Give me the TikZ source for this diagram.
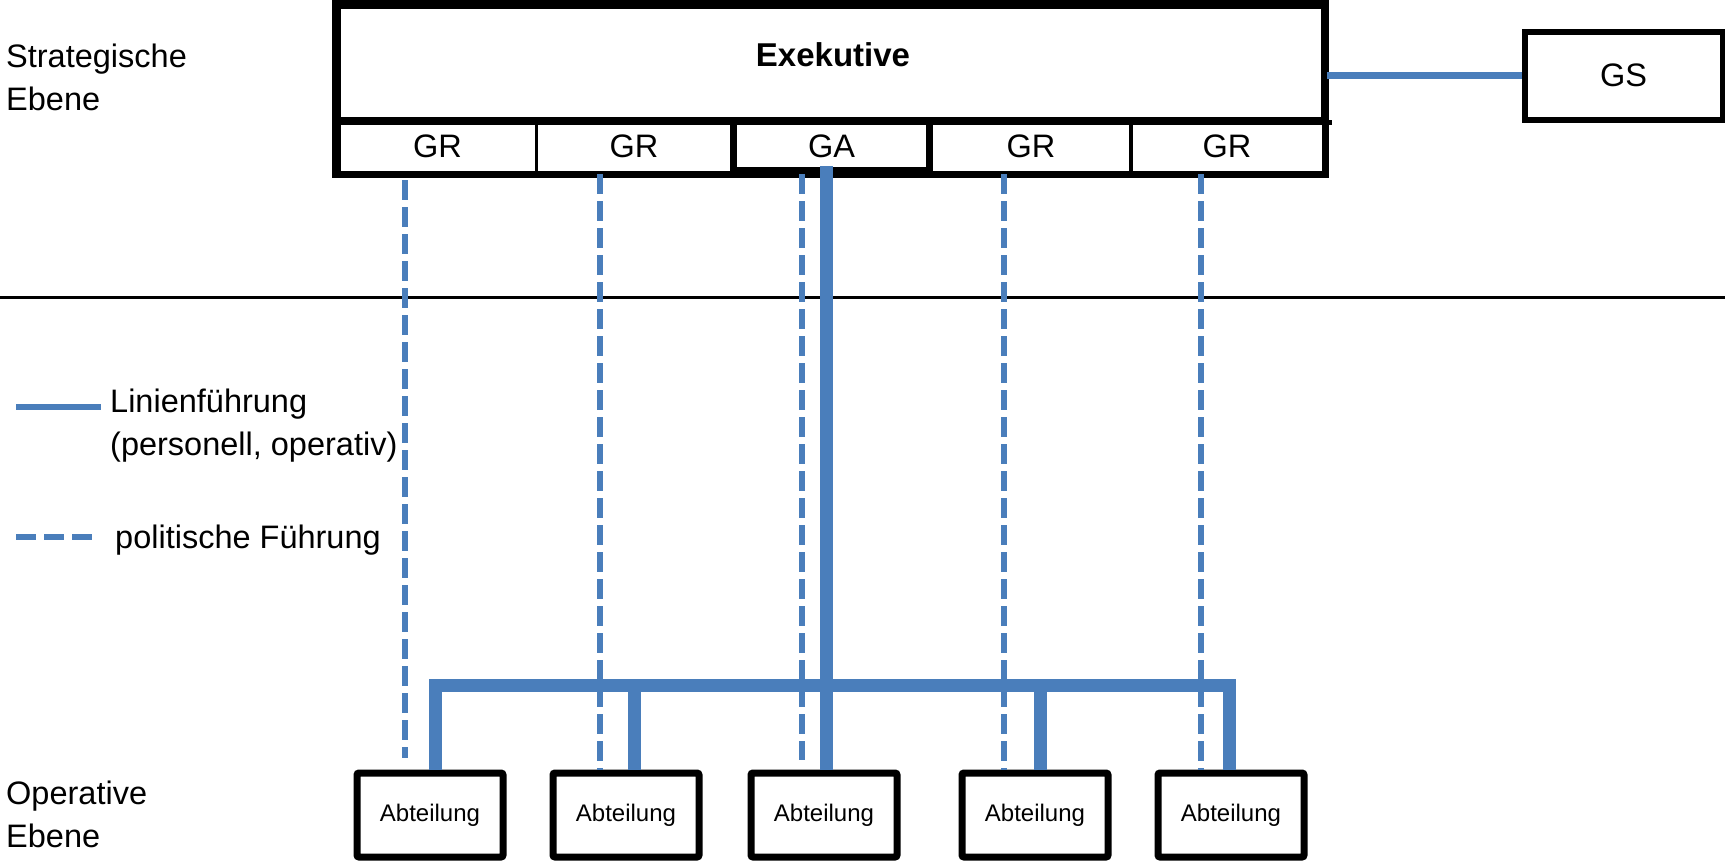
\documentclass[tikz,border=0pt]{standalone}
\usepackage{fontspec}
\setmainfont{Liberation Sans}
\definecolor{lineblue}{RGB}{74,126,187}
\begin{document}
\begin{tikzpicture}[x=1pt,y=-1pt,
  txt/.style={font=\fontsize{32.5}{43}\selectfont, inner sep=0pt, align=left},
  cell/.style={draw, line width=3pt, minimum width=196pt, minimum height=53pt, inner sep=0pt, font=\fontsize{32.5}{38}\selectfont},
  abt/.style={draw, line width=7pt, rounded corners=2pt, minimum width=146pt, minimum height=84pt, inner sep=0pt, font=\fontsize{24}{29}\selectfont},
  lineal/.style={draw=lineblue, line width=13pt},
  polit/.style={draw=lineblue, line width=6pt, dash pattern=on 20pt off 7pt},
]
\useasboundingbox (0,0) rectangle (1725,865);

% level labels
\node[txt, anchor=west] (strat) at (6,77) {Strategische\\Ebene};
\node[txt, anchor=west] (oper) at (6,814) {Operative\\Ebene};

% Exekutive
\node[draw, line width=6pt, minimum width=986pt, minimum height=114pt, inner sep=0pt] (exe) at (831,62.5) {};
\node[font=\fontsize{33}{40}\selectfont\bfseries, inner sep=0pt] (exetxt) at (833,55) {Exekutive};
\node[cell, minimum width=197pt] (gr1) at (437.5,146) {GR};
\node[cell] (gr2) at (634,146) {GR};
\node[cell, minimum width=200pt] (gr4) at (1031,146) {GR};
\node[cell, minimum width=194pt] (gr5) at (1227,146) {GR};
\node[cell, line width=7pt, minimum width=196pt, minimum height=49pt] (ga) at (831.5,146) {GA};
\draw[line width=7pt] (exe.north west) rectangle (gr5.south east);
\draw[line width=5pt] (exe.south west) -- ([xshift=5pt]exe.south east);

% GS
\node[draw, line width=6pt, minimum width=198pt, minimum height=88pt, inner sep=0pt, font=\fontsize{32.5}{38}\selectfont] (gs) at (1623.5,75.5) {GS};
\draw[draw=lineblue, line width=6.5pt] (exe.east |- gs.west) -- (gs.west);

% separator
\coordinate (sepL) at (0,297);
\coordinate (sepR) at (1725,297);
\draw[line width=3pt] (sepL) -- (sepR);

% Abteilungen
\node[abt] (ab1) at (430,815) {Abteilung};
\node[abt] (ab2) at (626,815) {Abteilung};
\node[abt] (ab3) at (824,815) {Abteilung};
\node[abt] (ab4) at (1035,815) {Abteilung};
\node[abt] (ab5) at (1231,815) {Abteilung};

% political lines (dashed)
\draw[polit] (405,180) -- (405,758);
\draw[polit] (600,0 |- gr2.south) -- (600,0 |- ab2.north);
\draw[polit] (802,0 |- ga.south) -- (802,760);
\draw[polit] (1004,0 |- gr4.south) -- (1004,0 |- ab4.north);
\draw[polit] (1201,0 |- gr5.south) -- (1201,0 |- ab5.north);

% line management (solid)
\draw[lineal] (826,166) -- (826,0 |- ab3.north);
\draw[lineal, miter limit=10] (435.5,0 |- ab1.north) -- (435.5,685) -- (1229,685) -- (1229,0 |- ab5.north);
\draw[lineal] (634,685) -- (634,0 |- ab2.north);
\draw[lineal] (1040,685) -- (1040,0 |- ab4.north);

% legend
\coordinate (lgA1) at (16,407);
\coordinate (lgA2) at (101,407);
\draw[draw=lineblue, line width=6pt] (lgA1) -- (lgA2);
\node[txt, anchor=north west] (lgAt) at (110,389) {Linienführung\\(personell, operativ)};
\coordinate (lgB1) at (16,537);
\coordinate (lgB2) at (97,537);
\draw[draw=lineblue, line width=6pt, dash pattern=on 20pt off 8pt] (lgB1) -- (lgB2);
\node[txt, anchor=west] (lgBt) at (115,540) {politische Führung};
\end{tikzpicture}
\end{document}
